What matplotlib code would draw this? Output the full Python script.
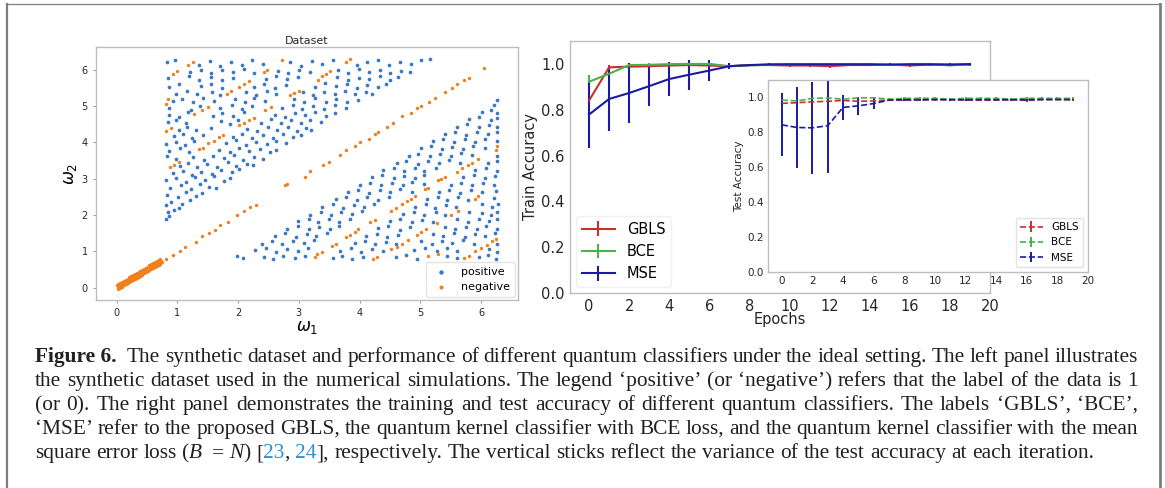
import re
import matplotlib.pyplot as plt
from matplotlib.lines import Line2D

# ---- left panel: synthetic dataset (approximate)
pos_upper = [
    (0.82, 1.88), (0.86, 1.97), (0.84, 2.08), (0.95, 2.14), (1.03, 2.2), (0.81, 2.27),
    (0.9, 2.36), (1.08, 2.3), (1.2, 2.41), (0.83, 2.55), (1.01, 2.5), (1.15, 2.62), (1.31, 2.53), (1.41, 2.6),
    (0.88, 2.73), (1.06, 2.81), (1.22, 2.7), (1.37, 2.84), (1.52, 2.77), (1.63, 2.75),
    (0.81, 2.95), (0.97, 3.02), (1.14, 2.91), (1.29, 3.05), (1.46, 2.97), (1.61, 3.06), (1.76, 2.94), (1.86, 3.01),
    (0.92, 3.16), (1.1, 3.22), (1.24, 3.11), (1.39, 3.19), (1.57, 3.13), (1.72, 3.24), (1.9, 3.17), (2.02, 3.26),
    (1.05, 3.36), (1.18, 3.43), (1.33, 3.31), (1.49, 3.4), (1.66, 3.33), (1.83, 3.45), (1.97, 3.35), (2.14, 3.41), (2.24, 3.37),
    (0.83, 3.62), (0.97, 3.55), (1.26, 3.6), (1.44, 3.52), (1.59, 3.63), (1.77, 3.57), (1.94, 3.64), (2.08, 3.52), (2.27, 3.6), (2.41, 3.55),
    (0.86, 3.76), (1.04, 3.83), (1.19, 3.73), (1.68, 3.79), (1.86, 3.72), (2.02, 3.84), (2.18, 3.76), (2.36, 3.82), (2.52, 3.74), (2.63, 3.8),
    (0.82, 3.95), (0.97, 4.02), (1.13, 3.92), (1.28, 4.03), (1.8, 3.97), (1.96, 4.05), (2.13, 3.93), (2.3, 4.01), (2.47, 3.94), (2.62, 4.04), (2.79, 3.97),
    (0.95, 4.16), (1.09, 4.22), (1.24, 4.12), (1.42, 4.2), (1.92, 4.14), (2.07, 4.23), (2.23, 4.11), (2.41, 4.19), (2.58, 4.13), (2.74, 4.24), (2.91, 4.15), (3.04, 4.21),
    (1.02, 4.34), (1.16, 4.42), (1.3, 4.33), (1.56, 4.4), (2.15, 4.37), (2.31, 4.3), (2.49, 4.41), (2.64, 4.34), (2.82, 4.43), (2.97, 4.32), (3.12, 4.39), (3.2, 4.33),
    (0.84, 4.55), (0.98, 4.61), (1.14, 4.52), (1.72, 4.58), (1.86, 4.51), (2.0, 4.62), (2.38, 4.54), (2.55, 4.63), (2.7, 4.52), (2.87, 4.6), (3.03, 4.53), (3.19, 4.61), (3.36, 4.55),
    (0.86, 4.75), (1.03, 4.7), (1.17, 4.82), (1.58, 4.71), (1.74, 4.8), (1.91, 4.73), (2.09, 4.83), (2.61, 4.76), (2.77, 4.7), (2.93, 4.81), (3.1, 4.74), (3.27, 4.83), (3.44, 4.72), (3.6, 4.8),
    (0.87, 4.94), (1.22, 4.9), (1.37, 5.01), (1.71, 4.93), (1.9, 5.02), (2.06, 4.91), (2.23, 4.99), (2.72, 4.95), (2.9, 5.03), (3.06, 4.92), (3.24, 5.0), (3.41, 4.91), (3.59, 5.02), (3.77, 4.95),
    (0.92, 5.14), (1.07, 5.2), (1.25, 5.11), (1.43, 5.22), (1.61, 5.14), (1.95, 5.19), (2.11, 5.1), (2.27, 5.21), (2.44, 5.13), (2.92, 5.18), (3.09, 5.11), (3.27, 5.22), (3.44, 5.12), (3.62, 5.2), (3.8, 5.1), (3.97, 5.17),
    (0.98, 5.33), (1.16, 5.41), (1.33, 5.34), (1.57, 5.39), (1.71, 5.3), (2.13, 5.38), (2.29, 5.31), (2.47, 5.42), (2.63, 5.34), (3.07, 5.39), (3.23, 5.3), (3.41, 5.37), (3.59, 5.32), (3.76, 5.42), (3.93, 5.33), (4.11, 5.38), (4.2, 5.33),
    (0.87, 5.53), (1.03, 5.6), (1.39, 5.54), (1.56, 5.61), (1.73, 5.5), (2.26, 5.53), (2.43, 5.61), (2.61, 5.5), (2.79, 5.58), (3.26, 5.52), (3.43, 5.62), (3.61, 5.54), (3.79, 5.59), (3.96, 5.5), (4.13, 5.58), (4.31, 5.53), (4.43, 5.6),
    (0.85, 5.78), (1.19, 5.81), (1.36, 5.72), (1.56, 5.8), (1.73, 5.71), (1.91, 5.78), (2.46, 5.73), (2.63, 5.82), (2.81, 5.74), (2.99, 5.79), (3.63, 5.8), (3.81, 5.71), (3.99, 5.78), (4.16, 5.73), (4.33, 5.82), (4.51, 5.72), (4.63, 5.79),
    (1.21, 5.93), (1.39, 6.0), (1.56, 5.91), (1.73, 5.98), (1.91, 5.92), (2.09, 6.01), (2.26, 5.9), (2.66, 5.97), (2.83, 5.9), (3.01, 5.99), (3.19, 5.92), (3.64, 5.98), (3.81, 5.9), (3.99, 6.01), (4.16, 5.92), (4.33, 5.99), (4.51, 5.9), (4.69, 5.97), (4.83, 5.94),
    (0.83, 6.2), (0.96, 6.26), (1.36, 6.13), (1.53, 6.23), (1.71, 6.11), (1.89, 6.21), (2.06, 6.13), (2.23, 6.27), (2.41, 6.16), (2.86, 6.21), (3.03, 6.11), (3.21, 6.23), (3.39, 6.15), (3.56, 6.26), (3.96, 6.13), (4.13, 6.21), (4.31, 6.27), (4.49, 6.12), (4.66, 6.21), (4.84, 6.14), (5.01, 6.25), (5.16, 6.28),
]
pos_lower = [
    (1.98, 0.87), (2.08, 0.81), (2.43, 0.84), (2.57, 0.79), (2.74, 0.88), (2.93, 0.82), (3.1, 0.86), (3.56, 0.81), (3.71, 0.88), (3.88, 0.8), (4.06, 0.85), (4.6, 0.83), (4.77, 0.89), (4.94, 0.8), (5.44, 0.86), (5.6, 0.81), (5.96, 0.84), (6.12, 0.89), (6.25, 0.8),
    (2.28, 1.03), (2.46, 1.09), (2.63, 0.99), (2.8, 1.07), (2.99, 1.0), (3.15, 1.1), (3.68, 1.02), (3.86, 1.09), (4.03, 0.99), (4.21, 1.06), (4.38, 1.01), (4.9, 1.03), (5.08, 1.09), (5.27, 1.0), (5.44, 1.08), (5.6, 1.02), (6.14, 1.06), (6.27, 0.99),
    (2.39, 1.21), (2.56, 1.29), (2.73, 1.2), (2.91, 1.27), (3.09, 1.22), (3.25, 1.3), (3.93, 1.23), (4.09, 1.29), (4.26, 1.19), (4.44, 1.26), (4.6, 1.21), (5.01, 1.28), (5.19, 1.2), (5.36, 1.27), (5.53, 1.22), (5.71, 1.3), (5.88, 1.21), (6.27, 1.2),
    (2.61, 1.43), (2.77, 1.49), (2.96, 1.4), (3.13, 1.47), (3.29, 1.41), (3.47, 1.5), (4.11, 1.42), (4.29, 1.48), (4.46, 1.39), (4.63, 1.46), (5.21, 1.47), (5.37, 1.41), (5.56, 1.49), (5.73, 1.4), (5.9, 1.48), (6.06, 1.42), (6.23, 1.5),
    (2.81, 1.61), (2.99, 1.69), (3.16, 1.6), (3.33, 1.67), (3.51, 1.62), (3.67, 1.7), (4.31, 1.63), (4.47, 1.69), (4.66, 1.59), (4.83, 1.66), (5.41, 1.68), (5.57, 1.6), (5.76, 1.67), (5.93, 1.62), (6.09, 1.7), (6.26, 1.61),
    (2.99, 1.83), (3.16, 1.89), (3.31, 1.8), (3.49, 1.88), (3.67, 1.81), (3.84, 1.9), (4.51, 1.82), (4.67, 1.89), (4.86, 1.8), (5.03, 1.87), (5.21, 1.81), (5.61, 1.89), (5.79, 1.8), (5.96, 1.88), (6.13, 1.82), (6.27, 1.9),
    (3.19, 2.01), (3.36, 2.09), (3.53, 2.0), (3.69, 2.07), (3.87, 2.02), (4.04, 2.1), (4.71, 2.03), (4.89, 2.09), (5.07, 2.0), (5.26, 2.08), (5.41, 2.01), (5.81, 2.09), (6.01, 2.05), (6.16, 2.0), (6.27, 2.08),
    (3.39, 2.23), (3.56, 2.29), (3.73, 2.2), (3.91, 2.28), (4.07, 2.21), (4.24, 2.3), (4.91, 2.22), (5.09, 2.29), (5.24, 2.2), (5.43, 2.27), (5.59, 2.21), (6.01, 2.29), (6.19, 2.22), (6.28, 2.3),
    (3.61, 2.43), (3.77, 2.49), (3.96, 2.41), (4.13, 2.48), (4.31, 2.42), (4.49, 2.5), (5.11, 2.43), (5.29, 2.49), (5.44, 2.4), (5.63, 2.48), (5.79, 2.41), (6.21, 2.47),
    (3.81, 2.63), (3.97, 2.69), (4.16, 2.6), (4.33, 2.68), (4.51, 2.62), (4.67, 2.7), (4.86, 2.63), (5.31, 2.62), (5.47, 2.69), (5.66, 2.61), (5.83, 2.68), (6.01, 2.62), (6.25, 2.67),
    (4.01, 2.83), (4.17, 2.89), (4.36, 2.81), (4.53, 2.88), (4.71, 2.82), (4.87, 2.9), (5.06, 2.84), (5.51, 2.83), (5.67, 2.89), (5.86, 2.81), (6.03, 2.88), (6.21, 2.82),
    (4.21, 3.03), (4.37, 3.09), (4.56, 3.01), (4.73, 3.08), (4.91, 3.02), (5.07, 3.1), (5.71, 3.03), (5.89, 3.09), (6.06, 3.01), (6.23, 3.08),
    (4.39, 3.23), (4.56, 3.29), (4.73, 3.21), (4.91, 3.28), (5.07, 3.22), (5.26, 3.3), (5.91, 3.23), (6.09, 3.29), (6.26, 3.21),
    (4.61, 3.43), (4.77, 3.49), (4.96, 3.41), (5.13, 3.48), (5.31, 3.42), (5.47, 3.5), (5.66, 3.44), (6.11, 3.43), (6.27, 3.49),
    (4.81, 3.63), (4.97, 3.69), (5.16, 3.61), (5.33, 3.68), (5.51, 3.62), (5.67, 3.7), (5.86, 3.64), (6.27, 3.63),
    (5.01, 3.83), (5.17, 3.89), (5.36, 3.81), (5.53, 3.88), (5.71, 3.82), (5.87, 3.9), (6.06, 3.84),
    (5.21, 4.03), (5.37, 4.09), (5.56, 4.01), (5.73, 4.08), (5.91, 4.02), (6.07, 4.1), (6.26, 4.04),
    (5.41, 4.23), (5.57, 4.29), (5.76, 4.21), (5.93, 4.28), (6.11, 4.22), (6.27, 4.29),
    (5.61, 4.43), (5.77, 4.49), (5.96, 4.41), (6.13, 4.48), (6.27, 4.42),
    (5.81, 4.63), (5.97, 4.69), (6.16, 4.61), (6.27, 4.68),
    (6.01, 4.83), (6.16, 4.89), (6.27, 4.81), (6.21, 5.03), (6.27, 5.15),
]
neg_origin = [
    (0.0, 0.07), (0.03, 0.1), (0.06, 0.13), (0.09, 0.16), (0.12, 0.19), (0.15, 0.22), (0.18, 0.25), (0.21, 0.28),
    (0.24, 0.31), (0.27, 0.34), (0.3, 0.37), (0.33, 0.4), (0.36, 0.43), (0.39, 0.46), (0.42, 0.49), (0.45, 0.52),
    (0.48, 0.55), (0.51, 0.58), (0.54, 0.61), (0.57, 0.64), (0.6, 0.67), (0.63, 0.7), (0.66, 0.73), (0.69, 0.76),
    (0.72, 0.79),
    (0.015, 0.015), (0.045, 0.045), (0.075, 0.075), (0.105, 0.105), (0.135, 0.135), (0.165, 0.165), (0.195, 0.195),
    (0.225, 0.225), (0.255, 0.255), (0.285, 0.285), (0.315, 0.315), (0.345, 0.345), (0.375, 0.375), (0.405, 0.405),
    (0.435, 0.435), (0.465, 0.465), (0.495, 0.495), (0.525, 0.525), (0.555, 0.555), (0.585, 0.585), (0.615, 0.615),
    (0.645, 0.645), (0.675, 0.675), (0.705, 0.705), (0.735, 0.735),
    (0.03, -0.03), (0.06, 0.0), (0.09, 0.03), (0.12, 0.06), (0.15, 0.09), (0.18, 0.12), (0.21, 0.15), (0.24, 0.18),
    (0.27, 0.21), (0.3, 0.24), (0.33, 0.27), (0.36, 0.3), (0.39, 0.33), (0.42, 0.36), (0.45, 0.39), (0.48, 0.42),
    (0.51, 0.45), (0.54, 0.48), (0.57, 0.51), (0.6, 0.54), (0.63, 0.57), (0.66, 0.6), (0.69, 0.63), (0.72, 0.66),
    (0.75, 0.7),
]
neg_diag = [
    (0.82, 0.8), (0.92, 0.9), (1.05, 1.02), (1.12, 1.13), (1.3, 1.26), (1.4, 1.42), (1.52, 1.5), (1.62, 1.58),
    (1.7, 1.72), (1.83, 1.8), (1.98, 2.0), (2.1, 2.12), (2.2, 2.22), (2.3, 2.28), (2.78, 2.82), (2.8, 2.86),
    (3.1, 3.05), (3.18, 3.2), (3.4, 3.38), (3.5, 3.45), (3.68, 3.65), (3.78, 3.78), (3.92, 3.9), (4.0, 4.02),
    (4.15, 4.1), (4.25, 4.22), (4.3, 4.28), (4.45, 4.42), (4.55, 4.52), (4.7, 4.72), (4.85, 4.8), (4.95, 4.95),
    (5.02, 5.0), (5.15, 5.1), (5.25, 5.22), (5.4, 5.38), (5.52, 5.5), (5.6, 5.6), (5.72, 5.7), (5.8, 5.78), (6.05, 6.05),
]
neg_upper = [
    (0.88, 3.33), (0.95, 3.38), (1.02, 3.47), (1.35, 3.82), (1.42, 3.85), (1.5, 3.97), (1.6, 4.03), (1.68, 4.15),
    (1.75, 4.2), (2.02, 4.48), (2.1, 4.52), (2.18, 4.6), (2.26, 4.68), (2.45, 4.9), (2.55, 4.98), (2.85, 5.3),
    (2.92, 5.35), (3.0, 5.42), (3.32, 5.72), (3.38, 5.82), (3.45, 5.88), (3.52, 5.95), (3.78, 6.22), (3.85, 6.28),
    (0.82, 4.32), (0.9, 4.4), (1.28, 4.78), (1.4, 4.9), (1.5, 4.98), (1.82, 5.32), (1.88, 5.4), (2.02, 5.52),
    (2.1, 5.6), (2.18, 5.68), (2.42, 5.92), (2.48, 5.98), (2.72, 6.25),
    (0.81, 5.04), (0.84, 5.2), (0.93, 5.88), (1.0, 5.95), (1.17, 6.13), (1.25, 6.2),
]
neg_lower = [
    (3.27, 0.85), (3.3, 0.92), (3.38, 0.98), (3.55, 1.15), (3.62, 1.2), (3.78, 1.38), (3.85, 1.45), (3.92, 1.52),
    (3.98, 1.6), (4.18, 1.8), (4.25, 1.85), (4.52, 2.1), (4.6, 2.2), (4.7, 2.3), (4.78, 2.38), (4.85, 2.45),
    (4.92, 2.52), (5.08, 2.7), (5.12, 2.75), (5.3, 2.95), (5.35, 3.0), (5.4, 3.05), (5.6, 3.18), (5.68, 3.28),
    (5.78, 3.38), (5.85, 3.42), (5.95, 3.55), (6.25, 3.8), (6.27, 3.9),
    (4.22, 0.8), (4.28, 0.85), (4.52, 1.05), (4.62, 1.12), (4.7, 1.2), (4.8, 1.3), (4.95, 1.45), (5.02, 1.52),
    (5.1, 1.6), (5.28, 1.78), (5.5, 2.0), (5.62, 2.12), (5.9, 2.45), (5.95, 2.52),
    (5.72, 0.82), (5.8, 0.88), (5.9, 1.02), (6.0, 1.1), (6.1, 1.18), (6.18, 1.28), (6.25, 1.35),
    (5.12, 0.88), (5.3, 0.93),
]

# ---- right panel: accuracy per epoch
epochs = list(range(20))
train_gbls = [0.84, 0.985, 0.988, 0.99, 0.993, 0.995, 0.993, 0.99, 0.995, 0.995,
              0.993, 0.993, 0.99, 0.995, 0.995, 0.997, 0.993, 0.997, 0.997, 0.997]
train_gbls_err = [0.01, 0.012, 0.01, 0.008, 0.007, 0.006, 0.006, 0.006, 0.005, 0.005,
                  0.005, 0.005, 0.006, 0.005, 0.005, 0.004, 0.005, 0.004, 0.004, 0.004]
train_bce = [0.922, 0.957, 0.995, 0.996, 0.999, 1.0, 1.0, 0.99, 0.993, 0.997,
             0.999, 0.999, 0.999, 0.999, 0.999, 0.995, 0.999, 1.0, 0.993, 1.0]
train_bce_err = [0.03, 0.012, 0.008, 0.006, 0.005, 0.004, 0.004, 0.005, 0.004, 0.004,
                 0.003, 0.003, 0.003, 0.003, 0.003, 0.004, 0.003, 0.003, 0.004, 0.003]
train_mse = [0.779, 0.847, 0.873, 0.903, 0.934, 0.953, 0.971, 0.99, 0.995, 0.998,
             0.998, 0.998, 0.998, 0.998, 0.998, 0.997, 0.998, 0.998, 0.997, 0.999]
train_mse_err = [0.145, 0.14, 0.131, 0.085, 0.075, 0.065, 0.045, 0.012, 0.006, 0.005,
                 0.005, 0.005, 0.005, 0.005, 0.005, 0.005, 0.005, 0.005, 0.005, 0.004]

test_gbls = [0.966, 0.97, 0.975, 0.978, 0.983, 0.978, 0.98, 0.985, 0.985, 0.985,
             0.987, 0.987, 0.985, 0.985, 0.985, 0.987, 0.983, 0.988, 0.988, 0.987]
test_gbls_err = [0.008, 0.008, 0.007, 0.006, 0.006, 0.008, 0.008, 0.005, 0.006, 0.006,
                 0.005, 0.005, 0.006, 0.006, 0.006, 0.005, 0.007, 0.005, 0.005, 0.005]
test_bce = [0.985, 0.98, 0.995, 0.997, 0.99, 0.998, 0.998, 0.99, 0.995, 0.995,
            0.995, 0.99, 0.995, 0.995, 0.995, 0.99, 0.995, 0.995, 0.995, 0.995]
test_bce_err = [0.01, 0.008, 0.007, 0.006, 0.006, 0.007, 0.006, 0.005, 0.005, 0.005,
                0.005, 0.005, 0.005, 0.005, 0.005, 0.005, 0.005, 0.005, 0.005, 0.005]
test_mse = [0.843, 0.828, 0.826, 0.838, 0.943, 0.952, 0.965, 0.985, 0.987, 0.987,
            0.988, 0.987, 0.987, 0.987, 0.987, 0.987, 0.987, 0.988, 0.988, 0.988]
test_mse_err = [0.18, 0.23, 0.265, 0.27, 0.07, 0.05, 0.03, 0.008, 0.006, 0.006,
                0.005, 0.005, 0.005, 0.005, 0.005, 0.005, 0.005, 0.005, 0.005, 0.005]

methods = ['GBLS', 'BCE', 'MSE']
colors = ['#c8302c', '#4caf50', '#1a1aa6']

# '#' = bold word, '~' = fixed space, *x* = italic, {x} = blue citation
caption = [
    "#Figure~6.  The synthetic dataset and performance of different quantum classifiers under the ideal setting. The left panel illustrates",
    "the synthetic dataset used in the numerical simulations. The legend \u2018positive\u2019 (or \u2018negative\u2019) refers that the label of the data is 1",
    "(or 0). The right panel demonstrates the training and test accuracy of different quantum classifiers. The labels \u2018GBLS\u2019, \u2018BCE\u2019,",
    "\u2018MSE\u2019 refer to the proposed GBLS, the quantum kernel classifier with BCE loss, and the quantum kernel classifier with the mean",
    "square error loss (*B\u2009* = *N*) [{23}, {24}], respectively. The vertical sticks reflect the variance of the test accuracy at each iteration.",
]

W, H = 1165, 488
fig = plt.figure(figsize=(W / 100, H / 100), dpi=100)


def box(x0, y0, x1, y1):
    return [x0 / W, 1 - y1 / H, (x1 - x0) / W, (y1 - y0) / H]


spine_col = '#bdbdbd'
txt_col = '#262626'


def style_axes(ax, size):
    for s in ax.spines.values():
        s.set_color(spine_col)
        s.set_linewidth(1.0)
    ax.tick_params(labelsize=size, colors=txt_col, length=2.5, width=0.6)
    ax.tick_params(color='#888888')


# ---- scatter
ax1 = fig.add_axes(box(96, 47, 518, 300))
px = [p[0] for p in pos_upper + pos_lower]
py = [p[1] for p in pos_upper + pos_lower]
neg = neg_origin + neg_diag + neg_upper + neg_lower
nx = [p[0] for p in neg]
ny = [p[1] for p in neg]
ax1.scatter(px, py, s=7, color='#3a78c2', linewidths=0, label='positive')
ax1.scatter(nx, ny, s=6, color='#f07f1d', linewidths=0, label='negative')
ax1.set_xlim(-0.34, 6.61)
ax1.set_ylim(-0.34, 6.62)
ax1.set_xticks(range(7))
ax1.set_yticks(range(7))
style_axes(ax1, 7)
ax1.set_title('Dataset', fontsize=8, pad=2, color=txt_col)
ax1.set_xlabel(r'$\omega_1$', fontsize=12, labelpad=0)
ax1.set_ylabel(r'$\omega_2$', fontsize=12, labelpad=2)
ax1.legend(loc='lower right', fontsize=8, markerscale=1.2, borderaxespad=0.3,
           handletextpad=0.8, edgecolor='#dddddd')

# ---- train accuracy
ax2 = fig.add_axes(box(570, 41, 990, 293))
train = [(train_gbls, train_gbls_err), (train_bce, train_bce_err), (train_mse, train_mse_err)]
for (vals, err), name, c in zip(train, methods, colors):
    ax2.errorbar(epochs, vals, yerr=err, color=c, lw=1.5, elinewidth=1.5, label=name)
ax2.set_xlim(-0.95, 20)
ax2.set_ylim(0, 1.1)
ax2.set_xticks(range(0, 21, 2))
ax2.set_yticks([0.0, 0.2, 0.4, 0.6, 0.8, 1.0])
style_axes(ax2, 10.5)
ax2.tick_params(length=0, pad=4)
ax2.set_xlabel('Epochs', fontsize=10.5, labelpad=-1, color=txt_col)
ax2.set_ylabel('Train Accuracy', fontsize=10.5, labelpad=2, color=txt_col)
ax2.legend(loc='lower left', fontsize=10.5, handlelength=2.3, borderaxespad=0.4,
           edgecolor='#eeeeee')

# ---- test accuracy (inset)
ax3 = fig.add_axes(box(768, 80, 1088, 272))
ax3.set_facecolor('white')
test = [(test_gbls, test_gbls_err), (test_bce, test_bce_err), (test_mse, test_mse_err)]
for (vals, err), name, c in zip(test, methods, colors):
    ax3.errorbar(epochs, vals, yerr=err, color=c, ls='--', lw=1.2, elinewidth=1.4, label=name)
ax3.set_xlim(-0.9, 20)
ax3.set_ylim(0, 1.1)
ax3.set_xticks(range(0, 21, 2))
ax3.set_yticks([0.0, 0.2, 0.4, 0.6, 0.8, 1.0])
style_axes(ax3, 7.5)
ax3.tick_params(length=0, pad=3)
ax3.set_ylabel('Test Accuracy', fontsize=7.5, labelpad=2, color=txt_col)
ax3.legend(loc='lower right', fontsize=7.5, handlelength=2.2, borderaxespad=0.5,
           edgecolor='#dddddd')

# ---- frame around the figure
gray = '#7f7f7f'
fig.add_artist(Line2D([7 / W, 7 / W], [0, 1 - 4 / H], color=gray, lw=1.6))
fig.add_artist(Line2D([7 / W, 1160 / W], [1 - 4 / H, 1 - 4 / H], color=gray, lw=0.9))
fig.add_artist(Line2D([1160 / W, 1160 / W], [0, 1 - 4 / H], color=gray, lw=2.0))

# ---- caption, justified word by word
fig.canvas.draw()
rend = fig.canvas.get_renderer()
cap_fs = 15.4
cap_font = 'Liberation Serif'
left, right = 35, 1138
baselines = [362, 386, 410, 434, 458]


def make_word(word):
    bold = word.startswith('#')
    word = word.lstrip('#')
    runs = []
    for piece in re.split(r'(\*[^*]+\*|\{[^}]+\})', word):
        if not piece:
            continue
        kw = dict(fontsize=cap_fs, family=cap_font, color='#231f20',
                  weight='bold' if bold else 'normal')
        if piece.startswith('*'):
            piece = piece[1:-1]
            kw['style'] = 'italic'
        elif piece.startswith('{'):
            piece = piece[1:-1]
            kw['color'] = '#2a8fd6'
        t = fig.text(0, 0, piece.replace('~', ' '), va='baseline', ha='left', **kw)
        runs.append((t, t.get_window_extent(rend).width))
    return runs


space = cap_fs * 100 / 72 * 0.25
for i, line in enumerate(caption):
    words, gaps = [], []
    pending = 0
    for p in line.split(' '):
        if p == '':
            pending += 1
            continue
        if words:
            gaps.append(1 + pending)
        pending = 0
        words.append(make_word(p))
    total = sum(w for word in words for _, w in word)
    if i < len(caption) - 1:
        unit = (right - left - total) / sum(gaps)
    else:
        unit = space
    x = left
    y = 1 - baselines[i] / H
    for k, word in enumerate(words):
        for t, w in word:
            t.set_position((x / W, y))
            x += w
        if k < len(gaps):
            x += unit * gaps[k]

fig.savefig('out.png', dpi=100)
